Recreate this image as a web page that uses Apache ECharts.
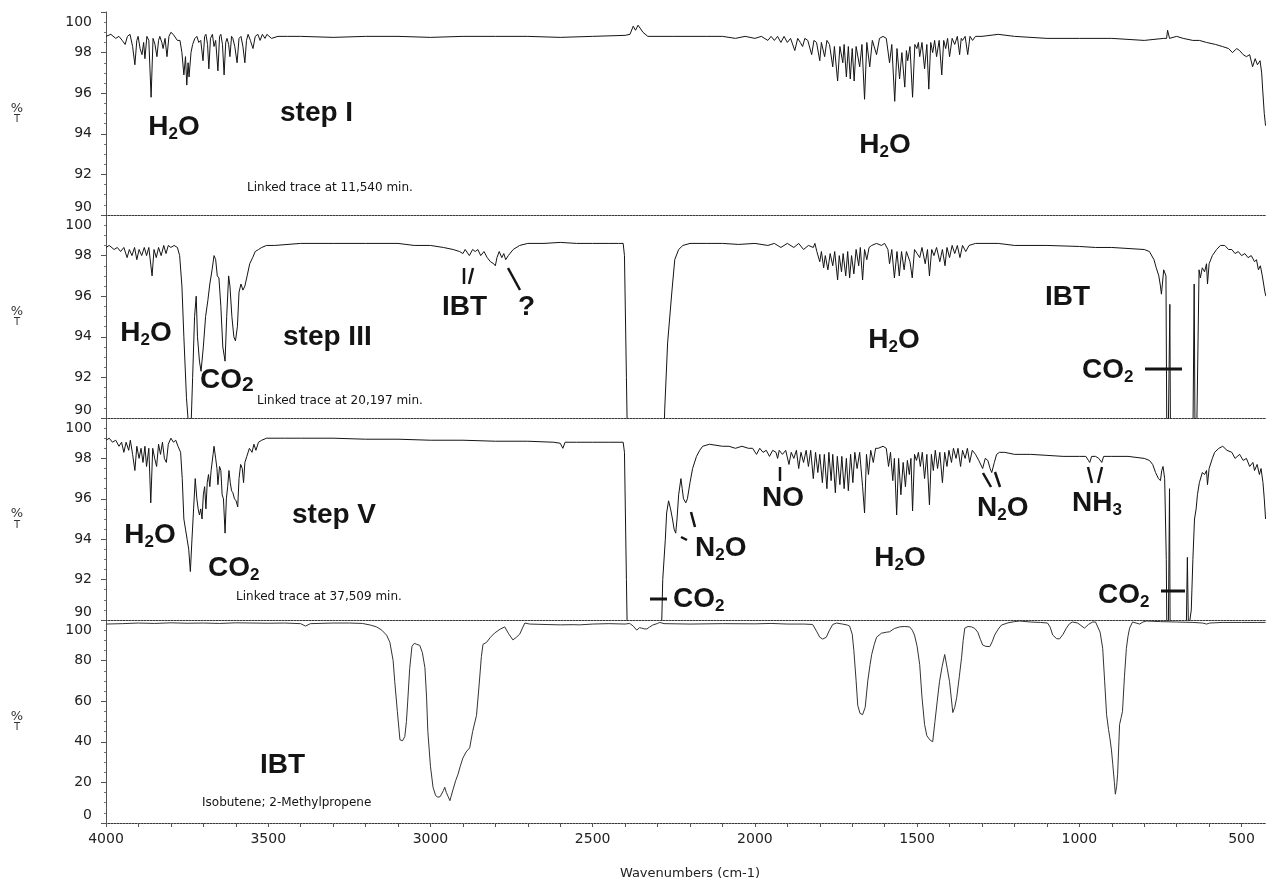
<!DOCTYPE html>
<html>
<head>
<meta charset="utf-8">
<title>IR spectra - steps I, III, V and isobutene</title>
<script src="https://cdn.jsdelivr.net/npm/echarts@6.0.0/dist/echarts.min.js"></script>
<style>
  html, body { margin: 0; padding: 0; background: #fff; }
  #chart { width: 1266px; height: 882px; }
</style>
</head>
<body>
<div id="chart"></div>
<script>
// spectra: [wavenumber (cm-1), %T]
const stepI = [
  [4000, 98.8], [3985, 98.9], [3970, 98.7], [3960, 98.8], [3950, 98.6], [3941, 98.4], [3934, 98.8], [3926, 98.9],
  [3918, 98.3], [3911, 97.4], [3905, 98.6], [3901, 98.8], [3895, 98.2], [3889, 97.9], [3884, 98.5], [3880, 97.7],
  [3874, 98.8], [3868, 98.6], [3861, 95.8], [3855, 98.7], [3849, 98.4], [3843, 97.8], [3838, 98.6], [3834, 98.8],
  [3828, 98.5], [3824, 98.2], [3818, 98.7], [3812, 97.8], [3806, 98.8], [3800, 99.0], [3793, 98.9], [3787, 98.9],
  [3780, 98.6], [3772, 98.6], [3766, 98.0], [3760, 96.9], [3755, 97.8], [3751, 96.4], [3747, 97.5], [3744, 96.8],
  [3738, 98.0], [3733, 98.4], [3726, 98.7], [3720, 98.8], [3714, 98.5], [3708, 98.6], [3701, 97.6], [3696, 98.8],
  [3692, 98.9], [3687, 98.4], [3683, 97.2], [3678, 98.7], [3672, 98.9], [3667, 98.3], [3662, 98.6], [3655, 97.1],
  [3650, 98.8], [3646, 98.9], [3641, 98.4], [3636, 96.9], [3631, 98.5], [3627, 98.7], [3622, 98.4], [3618, 97.8],
  [3613, 98.8], [3609, 98.7], [3603, 98.3], [3596, 97.5], [3590, 98.7], [3584, 98.8], [3578, 98.3], [3572, 97.5],
  [3567, 98.6], [3562, 98.9], [3555, 98.6], [3547, 98.2], [3540, 98.8], [3532, 98.9], [3525, 98.6], [3518, 98.9],
  [3510, 98.7], [3504, 98.9], [3490, 98.7], [3470, 98.8], [3440, 98.8], [3400, 98.8], [3300, 98.75], [3200, 98.8],
  [3100, 98.8], [3000, 98.75], [2900, 98.8], [2800, 98.8], [2700, 98.8], [2600, 98.75], [2500, 98.8], [2400, 98.85],
  [2385, 98.9], [2375, 99.3], [2368, 99.1], [2360, 99.35], [2345, 99.0], [2330, 98.8], [2250, 98.8], [2150, 98.8],
  [2100, 98.8], [2060, 98.7], [2030, 98.8], [2000, 98.7], [1980, 98.8], [1960, 98.6], [1950, 98.8], [1940, 98.6],
  [1930, 98.8], [1920, 98.5], [1910, 98.8], [1900, 98.5], [1890, 98.7], [1877, 98.1], [1868, 98.7], [1860, 98.5],
  [1853, 98.3], [1846, 98.7], [1837, 98.6], [1825, 97.9], [1818, 98.6], [1810, 98.5], [1800, 97.6], [1795, 98.5],
  [1785, 97.8], [1778, 98.6], [1770, 98.4], [1760, 97.3], [1755, 98.3], [1745, 96.6], [1738, 98.3], [1729, 97.5],
  [1725, 98.4], [1718, 96.8], [1712, 98.3], [1706, 96.7], [1700, 98.2], [1694, 96.6], [1688, 98.3], [1677, 97.3],
  [1670, 98.4], [1662, 95.7], [1655, 98.5], [1646, 97.3], [1638, 98.6], [1625, 97.9], [1616, 98.7], [1605, 98.8],
  [1595, 98.7], [1585, 97.5], [1578, 98.4], [1569, 95.6], [1562, 98.2], [1554, 96.7], [1547, 98.0], [1538, 96.3],
  [1533, 98.1], [1529, 97.6], [1522, 98.3], [1514, 95.8], [1507, 98.4], [1501, 98.2], [1496, 98.5], [1492, 97.8],
  [1485, 98.5], [1477, 97.2], [1470, 98.4], [1464, 96.2], [1458, 98.5], [1452, 98.0], [1446, 98.6], [1440, 97.8],
  [1432, 98.6], [1424, 96.9], [1418, 98.6], [1412, 98.2], [1406, 98.7], [1400, 97.8], [1392, 98.7], [1384, 98.4],
  [1376, 98.8], [1369, 97.9], [1364, 98.7], [1360, 98.6], [1352, 98.8], [1344, 97.9], [1337, 98.8], [1329, 98.6],
  [1320, 98.8], [1300, 98.8], [1250, 98.9], [1200, 98.8], [1100, 98.7], [1000, 98.7], [900, 98.7], [800, 98.6],
  [740, 98.7], [731, 98.7], [728, 99.1], [722, 98.7], [700, 98.8], [680, 98.7], [650, 98.6], [630, 98.6],
  [608, 98.5], [580, 98.4], [559, 98.3], [540, 98.2], [528, 98.0], [515, 98.2], [506, 98.1], [495, 97.9],
  [485, 97.8], [475, 97.9], [466, 97.3], [458, 97.7], [451, 97.4], [443, 97.6], [438, 97.0], [435, 96.2],
  [430, 95.0], [426, 94.4]
];

const stepIII = [
  [4000, 98.4], [3990, 98.5], [3975, 98.3], [3965, 98.4], [3955, 98.2], [3945, 98.4], [3935, 97.9], [3928, 98.3],
  [3920, 98.0], [3912, 98.4], [3905, 97.8], [3898, 98.3], [3890, 98.0], [3882, 98.4], [3875, 98.0], [3868, 98.4],
  [3858, 97.0], [3852, 98.3], [3845, 97.9], [3838, 98.4], [3830, 98.0], [3822, 98.5], [3815, 98.1], [3808, 98.5],
  [3800, 98.4], [3790, 98.5], [3780, 98.4], [3773, 98.0], [3766, 96.5], [3760, 94.0], [3752, 91.0], [3745, 89.5],
  [3738, 89.5], [3733, 92.0], [3727, 95.0], [3722, 96.0], [3718, 94.0], [3712, 92.8], [3707, 92.3], [3700, 93.5],
  [3693, 95.0], [3686, 95.8], [3680, 96.6], [3673, 97.3], [3667, 98.0], [3662, 97.8], [3657, 97.0], [3652, 96.9],
  [3646, 95.5], [3640, 93.5], [3633, 92.8], [3628, 95.0], [3622, 97.0], [3618, 96.5], [3612, 95.0], [3606, 94.0],
  [3601, 93.8], [3595, 94.5], [3590, 96.2], [3584, 96.6], [3578, 96.3], [3572, 96.5], [3565, 97.0], [3557, 97.6],
  [3548, 97.9], [3540, 98.2], [3530, 98.3], [3520, 98.4], [3505, 98.5], [3480, 98.5], [3400, 98.6], [3300, 98.6],
  [3200, 98.6], [3100, 98.6], [3050, 98.5], [3000, 98.5], [2960, 98.4], [2930, 98.3], [2910, 98.2], [2900, 98.1],
  [2893, 98.3], [2880, 98.0], [2870, 98.3], [2862, 98.2], [2854, 98.3], [2845, 98.0], [2835, 98.2], [2825, 97.9],
  [2815, 97.7], [2805, 97.6], [2800, 97.5], [2795, 97.9], [2788, 98.2], [2780, 97.9], [2774, 98.1], [2768, 97.8],
  [2760, 98.0], [2745, 98.3], [2725, 98.5], [2700, 98.6], [2650, 98.6], [2600, 98.65], [2550, 98.6], [2500, 98.6],
  [2450, 98.6], [2420, 98.6], [2406, 98.6], [2402, 98.0], [2396, 92.0], [2392, 88.0], [2385, 85.0], [2290, 85.0],
  [2280, 89.0], [2278, 90.4], [2269, 93.7], [2256, 96.2], [2247, 97.8], [2235, 98.3], [2222, 98.5], [2200, 98.6],
  [2150, 98.6], [2100, 98.6], [2050, 98.55], [2000, 98.6], [1960, 98.5], [1940, 98.6], [1920, 98.4], [1900, 98.6],
  [1880, 98.4], [1865, 98.6], [1850, 98.3], [1835, 98.5], [1820, 98.4], [1815, 98.6], [1809, 98.2], [1800, 97.7],
  [1795, 98.2], [1788, 97.4], [1783, 98.0], [1775, 97.3], [1768, 98.1], [1760, 97.5], [1754, 98.2], [1745, 96.8],
  [1740, 98.0], [1733, 97.2], [1728, 98.1], [1720, 97.0], [1714, 98.2], [1708, 96.9], [1702, 98.0], [1695, 97.1],
  [1688, 98.3], [1680, 97.5], [1675, 98.4], [1668, 96.8], [1662, 98.3], [1655, 97.8], [1648, 98.4], [1640, 98.5],
  [1625, 98.6], [1610, 98.5], [1600, 98.6], [1590, 98.3], [1585, 97.6], [1578, 98.3], [1570, 96.9], [1562, 98.2],
  [1555, 97.0], [1548, 98.2], [1540, 97.3], [1533, 98.2], [1522, 97.7], [1515, 96.9], [1508, 98.3], [1500, 98.1],
  [1492, 97.9], [1485, 98.4], [1475, 97.6], [1468, 98.3], [1462, 97.0], [1455, 98.3], [1448, 98.0], [1440, 98.4],
  [1430, 97.7], [1422, 98.3], [1414, 97.5], [1408, 98.4], [1400, 97.9], [1392, 98.5], [1384, 98.1], [1376, 98.5],
  [1368, 97.9], [1360, 98.5], [1350, 98.2], [1340, 98.5], [1320, 98.6], [1300, 98.6], [1250, 98.6], [1200, 98.5],
  [1100, 98.5], [1000, 98.45], [950, 98.4], [900, 98.4], [850, 98.35], [800, 98.3], [784, 98.2], [770, 97.8],
  [763, 97.4], [755, 97.0], [750, 96.5], [747, 96.1], [744, 96.6], [740, 97.3], [733, 97.0], [729, 85.0],
  [724, 85.0], [721, 95.6], [718, 85.0], [652, 85.0], [646, 96.6], [642, 85.0], [636, 85.0], [631, 97.3],
  [627, 96.9], [621, 97.4], [614, 97.2], [608, 97.6], [605, 96.6], [600, 97.6], [590, 98.0], [577, 98.3],
  [565, 98.5], [552, 98.5], [540, 98.3], [530, 98.3], [520, 98.1], [510, 98.2], [500, 98.0], [490, 98.1],
  [480, 97.9], [470, 98.0], [460, 97.7], [454, 97.8], [448, 97.3], [442, 97.5], [436, 97.0], [432, 96.6],
  [428, 96.2], [425, 96.0]
];

const stepV = [
  [4000, 98.9], [3990, 99.0], [3980, 98.8], [3970, 98.9], [3960, 98.6], [3952, 98.8], [3945, 98.3], [3938, 98.8],
  [3930, 98.4], [3925, 98.9], [3918, 98.2], [3911, 97.4], [3905, 98.6], [3898, 98.0], [3892, 98.5], [3886, 97.8],
  [3880, 98.6], [3875, 97.6], [3868, 98.5], [3862, 95.8], [3856, 98.5], [3850, 98.0], [3844, 97.6], [3838, 98.7],
  [3832, 98.2], [3826, 98.8], [3820, 98.0], [3814, 97.8], [3808, 98.7], [3800, 99.0], [3792, 98.8], [3785, 98.9],
  [3778, 98.6], [3770, 98.3], [3765, 97.0], [3760, 95.0], [3755, 94.5], [3750, 94.0], [3745, 93.5], [3740, 92.4],
  [3735, 94.0], [3730, 95.5], [3725, 97.0], [3720, 96.0], [3716, 95.5], [3712, 95.2], [3708, 95.5], [3704, 95.0],
  [3700, 96.2], [3696, 96.6], [3692, 95.5], [3688, 96.8], [3684, 97.2], [3680, 96.6], [3676, 97.4], [3670, 98.2],
  [3667, 98.6], [3662, 98.0], [3658, 97.5], [3655, 96.7], [3650, 97.6], [3646, 97.4], [3642, 96.2], [3638, 96.0],
  [3633, 94.3], [3629, 96.0], [3625, 96.6], [3621, 97.4], [3617, 96.8], [3613, 96.4], [3609, 96.3], [3604, 96.0],
  [3599, 95.9], [3594, 95.6], [3590, 97.0], [3585, 97.7], [3580, 97.5], [3576, 96.8], [3572, 97.8], [3566, 98.1],
  [3558, 98.5], [3550, 98.3], [3544, 98.7], [3538, 98.4], [3530, 98.8], [3520, 98.9], [3505, 99.0], [3450, 99.0],
  [3400, 99.0], [3300, 99.0], [3200, 98.95], [3100, 98.95], [3000, 98.9], [2900, 98.9], [2800, 98.85], [2700, 98.85],
  [2620, 98.8], [2600, 98.75], [2592, 98.5], [2585, 98.8], [2550, 98.8], [2500, 98.8], [2450, 98.8], [2406, 98.8],
  [2402, 98.3], [2396, 92.0], [2392, 88.0], [2385, 85.0], [2295, 85.0], [2290, 88.0], [2284, 92.0], [2276, 94.0],
  [2272, 95.3], [2266, 95.9], [2260, 95.5], [2254, 95.0], [2249, 94.5], [2244, 94.3], [2240, 95.0], [2235, 96.2],
  [2228, 97.0], [2224, 96.5], [2220, 96.0], [2213, 95.8], [2208, 96.0], [2200, 96.8], [2192, 97.5], [2180, 98.1],
  [2170, 98.4], [2161, 98.6], [2140, 98.7], [2100, 98.6], [2080, 98.6], [2060, 98.5], [2040, 98.6], [2020, 98.5],
  [2007, 98.5], [1995, 98.2], [1985, 98.5], [1975, 98.3], [1965, 98.4], [1955, 98.1], [1945, 98.4], [1935, 98.3],
  [1930, 98.0], [1925, 98.4], [1915, 98.2], [1905, 98.4], [1895, 97.7], [1888, 98.3], [1880, 98.0], [1872, 98.4],
  [1865, 97.5], [1858, 98.3], [1850, 97.8], [1842, 98.4], [1835, 97.6], [1828, 98.4], [1820, 97.0], [1813, 98.3],
  [1806, 97.3], [1800, 98.2], [1792, 96.8], [1786, 98.2], [1778, 96.5], [1772, 98.3], [1765, 96.9], [1760, 98.2],
  [1752, 96.3], [1746, 98.1], [1738, 96.7], [1732, 98.1], [1725, 96.5], [1718, 98.0], [1712, 96.4], [1705, 98.2],
  [1698, 96.8], [1692, 98.3], [1685, 97.5], [1677, 98.3], [1668, 96.6], [1662, 95.3], [1656, 98.2], [1650, 97.2],
  [1643, 98.4], [1635, 97.8], [1628, 98.5], [1620, 98.5], [1605, 98.6], [1595, 98.5], [1588, 97.6], [1582, 98.3],
  [1575, 96.9], [1570, 98.0], [1563, 95.2], [1557, 98.0], [1550, 96.2], [1543, 97.8], [1536, 96.6], [1530, 97.9],
  [1524, 97.2], [1519, 98.0], [1514, 95.4], [1508, 98.2], [1502, 97.9], [1496, 98.3], [1490, 97.6], [1484, 98.3],
  [1477, 97.0], [1470, 98.2], [1462, 95.7], [1456, 98.2], [1450, 97.4], [1444, 98.4], [1437, 97.5], [1430, 98.3],
  [1422, 96.8], [1415, 98.3], [1408, 97.6], [1402, 98.4], [1394, 97.8], [1388, 98.5], [1380, 98.0], [1374, 98.5],
  [1366, 97.6], [1360, 98.4], [1352, 98.0], [1345, 98.5], [1338, 97.8], [1330, 98.4], [1320, 98.2], [1310, 97.9],
  [1298, 97.5], [1290, 98.0], [1282, 97.9], [1275, 97.5], [1270, 97.3], [1262, 97.8], [1255, 98.2], [1246, 98.3],
  [1230, 98.3], [1200, 98.2], [1150, 98.2], [1100, 98.15], [1050, 98.1], [1000, 98.1], [980, 98.1], [972, 97.9],
  [968, 97.8], [962, 98.1], [950, 98.1], [940, 98.0], [931, 97.8], [925, 98.1], [900, 98.1], [850, 98.1],
  [800, 98.0], [784, 97.9], [774, 97.7], [765, 97.3], [756, 97.0], [750, 96.9], [746, 97.4], [742, 97.6],
  [737, 97.0], [732, 93.0], [728, 85.0], [725, 85.0], [722, 96.5], [719, 85.0], [700, 85.0], [690, 89.8],
  [680, 89.9], [670, 89.9], [667, 93.1], [664, 89.8], [660, 89.9], [655, 90.5], [650, 93.0], [645, 95.0],
  [640, 95.5], [636, 96.2], [630, 96.8], [621, 97.3], [614, 97.2], [608, 97.4], [605, 96.7], [600, 97.5],
  [590, 98.0], [583, 98.3], [570, 98.5], [558, 98.6], [545, 98.4], [530, 98.3], [520, 98.0], [506, 98.2],
  [495, 97.9], [485, 98.0], [475, 97.6], [465, 97.8], [460, 97.4], [452, 97.7], [445, 97.2], [440, 97.5],
  [434, 96.8], [430, 96.0], [426, 95.0]
];

const ibt = [
  [4000, 98.0], [3950, 98.2], [3900, 98.5], [3850, 98.3], [3800, 98.6], [3750, 98.4], [3700, 98.5], [3650, 98.3],
  [3600, 98.6], [3550, 98.5], [3500, 98.4], [3450, 98.5], [3400, 98.2], [3385, 97.0], [3370, 98.2], [3300, 98.5],
  [3250, 98.5], [3210, 98.3], [3185, 97.5], [3166, 96.6], [3150, 95.0], [3135, 92.5], [3125, 89.0], [3115, 80.0],
  [3110, 69.6], [3102, 55.0], [3094, 41.0], [3086, 40.5], [3079, 42.6], [3074, 50.0], [3070, 60.0], [3064, 76.0],
  [3057, 87.0], [3050, 88.5], [3042, 88.0], [3033, 87.5], [3025, 84.0], [3017, 76.5], [3012, 62.0], [3008, 45.0],
  [3000, 28.0], [2992, 17.6], [2984, 13.5], [2977, 12.7], [2970, 13.0], [2965, 13.5], [2960, 16.0], [2956, 17.6],
  [2951, 15.0], [2946, 13.2], [2940, 11.0], [2935, 10.8], [2930, 16.7], [2922, 21.0], [2915, 24.0], [2908, 28.0],
  [2900, 32.0], [2890, 35.0], [2879, 37.0], [2870, 45.0], [2858, 53.0], [2850, 68.0], [2843, 82.0], [2838, 88.0],
  [2827, 89.0], [2815, 91.5], [2802, 93.6], [2785, 95.5], [2771, 96.6], [2760, 93.5], [2746, 90.2], [2735, 91.5],
  [2725, 93.0], [2715, 96.5], [2709, 98.5], [2694, 98.0], [2650, 97.8], [2600, 97.6], [2560, 97.7], [2540, 97.6],
  [2500, 98.0], [2450, 98.2], [2400, 98.0], [2386, 98.3], [2375, 97.0], [2364, 95.0], [2356, 96.2], [2349, 96.0],
  [2340, 95.6], [2333, 95.6], [2325, 96.5], [2315, 97.5], [2300, 98.3], [2293, 98.8], [2280, 98.2], [2200, 98.0],
  [2100, 98.2], [2000, 98.1], [1950, 98.3], [1900, 98.0], [1850, 98.0], [1822, 97.8], [1810, 94.5], [1800, 91.5],
  [1791, 90.6], [1780, 91.5], [1770, 95.0], [1760, 97.8], [1748, 98.5], [1730, 98.0], [1715, 97.5], [1708, 97.0],
  [1700, 93.0], [1695, 85.0], [1688, 70.0], [1683, 58.0], [1676, 54.0], [1668, 53.4], [1660, 57.0], [1652, 70.0],
  [1645, 78.0], [1640, 83.0], [1632, 88.0], [1625, 91.5], [1610, 93.5], [1594, 94.0], [1585, 94.2], [1570, 95.8],
  [1554, 96.6], [1540, 96.8], [1523, 96.6], [1515, 95.0], [1508, 92.6], [1500, 87.0], [1492, 78.0], [1485, 62.0],
  [1477, 48.5], [1470, 43.0], [1461, 41.0], [1452, 40.0], [1445, 50.0], [1438, 60.0], [1431, 69.6], [1423, 77.0],
  [1415, 83.0], [1407, 76.0], [1400, 69.6], [1395, 62.0], [1390, 54.4], [1384, 57.0], [1378, 61.8], [1370, 72.0],
  [1363, 81.4], [1358, 90.0], [1353, 96.0], [1343, 96.8], [1332, 96.6], [1322, 95.8], [1313, 94.0], [1305, 90.5],
  [1298, 87.7], [1288, 87.0], [1276, 86.9], [1268, 89.5], [1261, 92.6], [1250, 95.5], [1240, 97.5], [1220, 98.6],
  [1200, 99.2], [1184, 99.5], [1150, 99.0], [1120, 98.8], [1098, 98.5], [1090, 96.5], [1082, 92.6], [1070, 90.8],
  [1061, 90.7], [1050, 93.0], [1040, 96.0], [1030, 98.2], [1021, 99.0], [1005, 98.5], [995, 97.3], [984, 96.0],
  [972, 97.8], [959, 99.0], [950, 99.0], [944, 98.5], [936, 94.0], [928, 86.0], [922, 70.0], [916, 53.4],
  [910, 46.0], [906, 42.0], [901, 36.0], [897, 29.0], [892, 20.0], [889, 14.2], [885, 18.0], [882, 24.0],
  [878, 40.0], [876, 48.5], [871, 52.0], [867, 55.0], [861, 72.0], [855, 86.0], [850, 92.0], [845, 96.0],
  [836, 99.0], [825, 98.5], [814, 98.0], [804, 99.0], [793, 99.5], [750, 99.2], [700, 99.0], [650, 98.8],
  [620, 98.5], [608, 98.0], [598, 98.5], [560, 98.8], [500, 98.8], [450, 98.8], [426, 98.8]
];

const spectra = [stepI, stepIII, stepV, ibt];
const xLabelValues = [500, 1000, 1500, 2000, 2500, 3000, 3500, 4000];
const xName = 'Wavenumbers (cm-1)';

const panels = [
    { top: 12, height: 203, min: 90, max: 100, interval: 2 },
    { top: 215, height: 203, min: 90, max: 100, interval: 2 },
    { top: 418, height: 202, min: 90, max: 100, interval: 2 },
    { top: 620, height: 203, min: 0, max: 100, interval: 20 }
];

const ink = '#141414';
const bigFont = 'Liberation Sans, Arial, sans-serif';
const smallFont = 'DejaVu Sans, sans-serif';

const chart = echarts.init(document.getElementById('chart'));

const richBig = {
    b: { fontSize: 28, fontWeight: 'bold', fontFamily: bigFont, color: ink, lineHeight: 32 },
    s: { fontSize: 17, fontWeight: 'bold', fontFamily: bigFont, color: ink, lineHeight: 26, verticalAlign: 'bottom' },
    s2: { fontSize: 21, fontWeight: 'bold', fontFamily: bigFont, color: ink, lineHeight: 22, verticalAlign: 'bottom' }
};

const bigText = (text, x, y, align) => ({
    type: 'text', x: x, y: y, z: 100,
    style: {
        text: text, rich: richBig, fill: ink,
        font: 'bold 28px ' + bigFont,
        align: align || 'left', verticalAlign: 'middle',
        textAlign: align || 'left', textVerticalAlign: 'middle'
    }
});

const smallText = (text, x, y) => ({
    type: 'text', x: x, y: y, z: 100,
    style: {
        text: text, fill: ink, font: '12px ' + smallFont,
        align: 'left', verticalAlign: 'middle', textAlign: 'left', textVerticalAlign: 'middle'
    }
});

const stroke = (x1, y1, x2, y2, w) => ({
    type: 'line', z: 100,
    shape: { x1: x1, y1: y1, x2: x2, y2: y2 },
    style: { stroke: ink, lineWidth: w || 2.5 }
});

const H2O = '{b|H}{s|2}{b|O}';
const CO2 = '{b|CO}{s|2}';
const N2O = '{b|N}{s|2}{b|O}';

const annotations = [
    // step I
    bigText(H2O, 174, 127, 'center'),
    bigText('{b|step I}', 280, 113),
    smallText('Linked trace at 11,540 min.', 247, 188),
    bigText(H2O, 885, 145, 'center'),
    // step III
    bigText(H2O, 146, 333, 'center'),
    bigText('{b|CO}{s2|2}', 200, 380),
    smallText('Linked trace at 20,197 min.', 257, 401),
    bigText('{b|step III}', 283, 337),
    bigText('{b|IBT}', 442, 307),
    bigText('{b|?}', 518, 307),
    stroke(464, 268, 464, 284),
    stroke(473, 268, 469, 284),
    stroke(508, 268, 520, 290),
    bigText('{b|IBT}', 1045, 297),
    bigText(H2O, 894, 340, 'center'),
    bigText(CO2, 1082, 370),
    stroke(1145, 369, 1182, 369, 3),
    // step V
    bigText(H2O, 150, 535, 'center'),
    bigText(CO2, 208, 568),
    bigText('{b|step V}', 292, 515),
    smallText('Linked trace at 37,509 min.', 236, 597),
    bigText(N2O, 695, 548),
    stroke(691, 512, 695, 527),
    stroke(681, 537, 687, 540),
    stroke(650, 599, 667, 599, 3),
    bigText(CO2, 673, 599),
    bigText('{b|NO}', 762, 498),
    stroke(780, 467, 780, 481),
    bigText(N2O, 977, 508),
    stroke(983, 473, 991, 487),
    stroke(995, 472, 1000, 487),
    bigText('{b|NH}{s|3}', 1072, 503),
    stroke(1088, 467, 1092, 483),
    stroke(1102, 467, 1098, 483),
    bigText(H2O, 900, 558, 'center'),
    bigText(CO2, 1098, 595),
    stroke(1161, 591, 1185, 591, 3),
    // reference
    bigText('{b|IBT}', 260, 765),
    smallText('Isobutene; 2-Methylpropene', 202, 803)
];

const grids = panels.map(p => ({
    left: 106, right: -8, top: p.top, height: p.height,
    outerBoundsMode: 'none', containLabel: false
}));

const xAxes = panels.map((p, i) => {
    const last = i === panels.length - 1;
    return {
        type: 'value', gridIndex: i, inverse: true,
        min: 400, max: 4000, interval: 100,
        splitLine: { show: false },
        axisLine: { show: true, onZero: false, lineStyle: { color: '#3a3a3a', width: 1, type: [2, 1] } },
        axisTick: { show: last, length: 4, lineStyle: { color: '#555' } },
        axisLabel: {
            show: last, interval: 0, margin: 9,
            color: '#222', fontSize: 14, fontFamily: smallFont,
            formatter: v => xLabelValues.includes(v) ? String(v) : ''
        },
        name: last ? xName : '',
        nameLocation: 'middle', nameGap: 44,
        nameTextStyle: { color: '#222', fontSize: 13, fontFamily: smallFont }
    };
});

const yAxes = panels.map((p, i) => ({
    type: 'value', gridIndex: i,
    min: p.min, max: p.max, interval: p.interval,
    splitLine: { show: false },
    axisLine: { show: true, lineStyle: { color: '#555', width: 1 } },
    axisTick: { show: true, length: 5, lineStyle: { color: '#555' } },
    minorTick: { show: true, splitNumber: 4, length: 2, lineStyle: { color: '#777' } },
    axisLabel: {
        margin: 14, color: '#222', fontSize: 14, fontFamily: smallFont,
        formatter: v => v === p.max ? '{hi|' + v + '}' : (v === p.min ? '{lo|' + v + '}' : String(v)),
        rich: {
            hi: { padding: [20, 0, 0, 0], fontSize: 14, fontFamily: smallFont, color: '#222' },
            lo: { padding: [0, 0, 16, 0], fontSize: 14, fontFamily: smallFont, color: '#222' }
        }
    },
    name: '{p|%}\n{t|T}',
    nameLocation: 'middle', nameRotate: 0, nameGap: 89,
    nameTextStyle: {
        align: 'center', verticalAlign: 'middle',
        rich: {
            p: { fontSize: 13, fontFamily: smallFont, color: '#333', lineHeight: 12 },
            t: { fontSize: 10, fontFamily: smallFont, color: '#333', lineHeight: 10 }
        }
    }
}));

const series = spectra.map((d, i) => ({
    type: 'line', xAxisIndex: i, yAxisIndex: i,
    data: d, showSymbol: false, clip: true, smooth: false,
    lineStyle: { color: i === 3 ? '#333' : ink, width: 1 },
    emphasis: { disabled: true }
}));

chart.setOption({
    animation: false,
    backgroundColor: '#fff',
    grid: grids,
    xAxis: xAxes,
    yAxis: yAxes,
    series: series,
    graphic: annotations
});
</script>
</body>
</html>
